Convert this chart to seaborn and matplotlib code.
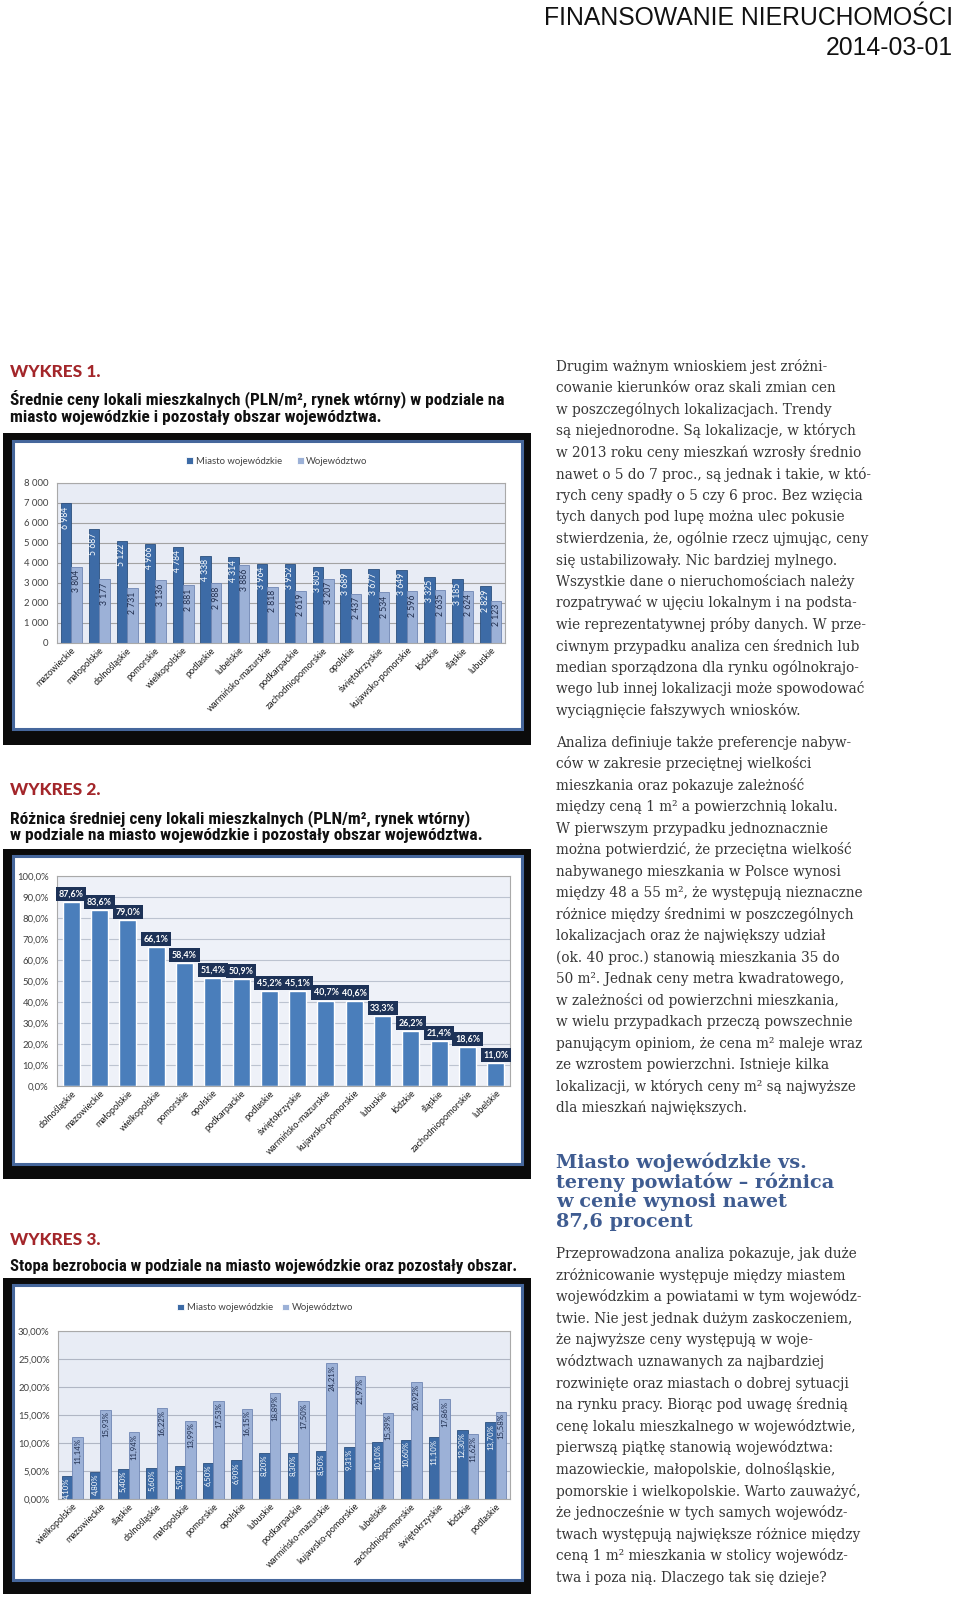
import numpy as np
import pandas as pd
import matplotlib
matplotlib.use("Agg")
import matplotlib.pyplot as plt
import seaborn as sns
from matplotlib.patches import Rectangle
from matplotlib.ticker import FuncFormatter
from matplotlib import font_manager as fm

# ---------------- data ----------------
series_names = ["Miasto wojewódzkie", "Województwo"]

c1_regions = ["mazowieckie", "małopolskie", "dolnośląskie", "pomorskie", "wielkopolskie",
              "podlaskie", "lubelskie", "warmińsko-mazurskie", "podkarpackie",
              "zachodniopomorskie", "opolskie", "świętokrzyskie", "kujawsko-pomorskie",
              "łódzkie", "śląskie", "lubuskie"]
c1_city = [6984, 5687, 5122, 4966, 4784, 4338, 4314, 3964, 3952, 3805, 3689, 3677, 3649, 3325, 3185, 2829]
c1_voiv = [3804, 3177, 2731, 3136, 2881, 2988, 3886, 2818, 2619, 3207, 2437, 2534, 2596, 2635, 2624, 2123]
c1_ticks = [0, 1000, 2000, 3000, 4000, 5000, 6000, 7000, 8000]

c2_regions = ["dolnośląskie", "mazowieckie", "małopolskie", "wielkopolskie", "pomorskie",
              "opolskie", "podkarpackie", "podlaskie", "świętokrzyskie", "warmińsko-mazurskie",
              "kujawsko-pomorskie", "lubuskie", "łódzkie", "śląskie", "zachodniopomorskie", "lubelskie"]
c2_diff = [87.6, 83.6, 79.0, 66.1, 58.4, 51.4, 50.9, 45.2, 45.1, 40.7, 40.6, 33.3, 26.2, 21.4, 18.6, 11.0]
c2_ticks = [0, 10, 20, 30, 40, 50, 60, 70, 80, 90, 100]

c3_regions = ["wielkopolskie", "mazowieckie", "śląskie", "dolnośląskie", "małopolskie",
              "pomorskie", "opolskie", "lubuskie", "podkarpackie", "warmińsko-mazurskie",
              "kujawsko-pomorskie", "lubelskie", "zachodniopomorskie", "świętokrzyskie",
              "łódzkie", "podlaskie"]
c3_city = [4.10, 4.80, 5.40, 5.60, 5.90, 6.50, 6.90, 8.20, 8.30, 8.50, 9.31, 10.10, 10.60, 11.10, 12.30, 13.70]
c3_voiv = [11.14, 15.93, 11.94, 16.22, 13.99, 17.53, 16.15, 18.89, 17.50, 24.21, 21.97, 15.39, 20.92, 17.86, 11.62, 15.58]
c3_ticks = [0, 5, 10, 15, 20, 25, 30]

header_lines = ["FINANSOWANIE NIERUCHOMOŚCI", "2014-03-01"]
chart_labels = ["WYKRES 1.", "WYKRES 2.", "WYKRES 3."]
title1 = ["Średnie ceny lokali mieszkalnych (PLN/m², rynek wtórny) w podziale na",
          "miasto wojewódzkie i pozostały obszar województwa."]
title2 = ["Różnica średniej ceny lokali mieszkalnych (PLN/m², rynek wtórny)",
          "w podziale na miasto wojewódzkie i pozostały obszar województwa."]
title3 = ["Stopa bezrobocia w podziale na miasto wojewódzkie oraz pozostały obszar."]

para1 = ["Drugim ważnym wnioskiem jest zróżni-",
         "cowanie kierunków oraz skali zmian cen",
         "w poszczególnych lokalizacjach. Trendy",
         "są niejednorodne. Są lokalizacje, w których",
         "w 2013 roku ceny mieszkań wzrosły średnio",
         "nawet o 5 do 7 proc., są jednak i takie, w któ-",
         "rych ceny spadły o 5 czy 6 proc. Bez wzięcia",
         "tych danych pod lupę można ulec pokusie",
         "stwierdzenia, że, ogólnie rzecz ujmując, ceny",
         "się ustabilizowały. Nic bardziej mylnego.",
         "Wszystkie dane o nieruchomościach należy",
         "rozpatrywać w ujęciu lokalnym i na podsta-",
         "wie reprezentatywnej próby danych. W prze-",
         "ciwnym przypadku analiza cen średnich lub",
         "median sporządzona dla rynku ogólnokrajo-",
         "wego lub innej lokalizacji może spowodować",
         "wyciągnięcie fałszywych wniosków."]
para2 = ["Analiza definiuje także preferencje nabyw-",
         "ców w zakresie przeciętnej wielkości",
         "mieszkania oraz pokazuje zależność",
         "między ceną 1 m² a powierzchnią lokalu.",
         "W pierwszym przypadku jednoznacznie",
         "można potwierdzić, że przeciętna wielkość",
         "nabywanego mieszkania w Polsce wynosi",
         "między 48 a 55 m², że występują nieznaczne",
         "różnice między średnimi w poszczególnych",
         "lokalizacjach oraz że największy udział",
         "(ok. 40 proc.) stanowią mieszkania 35 do",
         "50 m². Jednak ceny metra kwadratowego,",
         "w zależności od powierzchni mieszkania,",
         "w wielu przypadkach przeczą powszechnie",
         "panującym opiniom, że cena m² maleje wraz",
         "ze wzrostem powierzchni. Istnieje kilka",
         "lokalizacji, w których ceny m² są najwyższe",
         "dla mieszkań największych."]
heading3 = ["Miasto wojewódzkie vs.",
            "tereny powiatów – różnica",
            "w cenie wynosi nawet",
            "87,6 procent"]
para3 = ["Przeprowadzona analiza pokazuje, jak duże",
         "zróżnicowanie występuje między miastem",
         "wojewódzkim a powiatami w tym wojewódz-",
         "twie. Nie jest jednak dużym zaskoczeniem,",
         "że najwyższe ceny występują w woje-",
         "wództwach uznawanych za najbardziej",
         "rozwinięte oraz miastach o dobrej sytuacji",
         "na rynku pracy. Biorąc pod uwagę średnią",
         "cenę lokalu mieszkalnego w województwie,",
         "pierwszą piątkę stanowią województwa:",
         "mazowieckie, małopolskie, dolnośląskie,",
         "pomorskie i wielkopolskie. Warto zauważyć,",
         "że jednocześnie w tych samych wojewódz-",
         "twach występują największe różnice między",
         "ceną 1 m² mieszkania w stolicy wojewódz-",
         "twa i poza nią. Dlaczego tak się dzieje?"]

# ---------------- style ----------------
W, H = 960, 1613
DARK = "#3d6ba6"
LIGHT = "#9cb1d7"
DARK_EDGE = "#2b4f7e"
LIGHT_EDGE = "#6f86b3"
BAR2 = "#4a7ebb"
NAVY = "#1d3257"
RED = "#a3262a"
HEAD_BLUE = "#3f5c91"
TXT = "#363636"
TICK = "#404040"

sns.set_theme(style="white")
plt.rcParams["font.family"] = ["Lato", "DejaVu Sans"]
plt.rcParams["axes.unicode_minus"] = False

fig = plt.figure(figsize=(W / 100, H / 100), dpi=100)
fig.patch.set_facecolor("white")
page = fig.add_axes([0, 0, 1, 1])
page.set_xlim(0, W)
page.set_ylim(H, 0)
page.axis("off")
renderer = fig.canvas.get_renderer()


def font_available(name, stretch=None):
    for f in fm.fontManager.ttflist:
        if f.name == name and (stretch is None or f.stretch == stretch):
            return True
    return False


def px_axes(x0, y0, x1, y1):
    return fig.add_axes([x0 / W, 1 - y1 / H, (x1 - x0) / W, (y1 - y0) / H])


def fit_size(s, width, **kw):
    t = page.text(0, 0, s, fontsize=10, **kw)
    w = t.get_window_extent(renderer).width
    t.remove()
    return 10 * width / w


# pick the narrowest available bold font for the condensed chart titles
candidates = [
    ("DejaVu Serif", "condensed", dict(family=["DejaVu Serif"], fontstretch="condensed", fontweight="bold")),
    ("Noto Serif Condensed", None, dict(family=["Noto Serif Condensed", "DejaVu Sans"], fontweight="bold")),
    ("Roboto Condensed", None, dict(family=["Roboto Condensed", "DejaVu Sans"], fontweight="bold")),
    ("Noto Sans Condensed", None, dict(family=["Noto Sans Condensed", "DejaVu Sans"], fontweight="bold")),
    ("Liberation Sans Narrow", None, dict(family=["Liberation Sans Narrow", "DejaVu Sans"], fontweight="bold")),
    ("DejaVu Sans", "condensed", dict(family=["DejaVu Sans"], fontstretch="condensed", fontweight="bold")),
    ("Liberation Serif", None, dict(family=["Liberation Serif", "DejaVu Sans"], fontweight="bold")),
]
best = None
for name, stretch, props in candidates:
    if font_available(name, stretch):
        sz = fit_size(title1[0], 495, **props)
        if best is None or sz > best[0] + 0.6:
            best = (sz, props)
TITLE_FONT = best[1] if best else dict(family=["DejaVu Serif"], fontweight="bold")
MAX_TITLE = 12.8

# ---------------- header ----------------
hs = fit_size(header_lines[0], 410, family=["Liberation Sans", "DejaVu Sans"])
for s, yb in zip(header_lines, [25, 55]):
    page.text(953, yb, s, fontsize=hs, ha="right", va="baseline",
              family=["Liberation Sans", "DejaVu Sans"], color="#111111")

# ---------------- chart captions ----------------
ws = fit_size(chart_labels[0], 90, family=["Lato", "DejaVu Sans"], fontweight="black")
for lab, yb in zip(chart_labels, [377, 795, 1245]):
    page.text(10, yb, lab, fontsize=ws, fontweight="black", color=RED,
              family=["Lato", "DejaVu Sans"], va="baseline")

ts1 = min(MAX_TITLE, fit_size(title1[0], 495, **TITLE_FONT))
for s, yb in zip(title1, [405, 422]):
    page.text(10, yb, s, fontsize=ts1, color="#111111", va="baseline", **TITLE_FONT)
ts2 = min(MAX_TITLE, fit_size(title2[0], 460, **TITLE_FONT))
for s, yb in zip(title2, [823, 840]):
    page.text(10, yb, s, fontsize=ts2, color="#111111", va="baseline", **TITLE_FONT)
ts3 = min(MAX_TITLE, fit_size(title3[0], 505, **TITLE_FONT))
page.text(10, 1271, title3[0], fontsize=ts3, color="#111111", va="baseline", **TITLE_FONT)

# ---------------- frames ----------------
for (y0, y1, iy0, iy1) in [(433, 745, 441, 729), (849, 1179, 856, 1164), (1278, 1594, 1285, 1580)]:
    page.add_patch(Rectangle((3, y0), 528, y1 - y0, facecolor="#0b0b0b", edgecolor="none"))
    page.add_patch(Rectangle((13, iy0), 509, iy1 - iy0, facecolor="white",
                             edgecolor="#46679c", linewidth=2.2))

# ---------------- right column text ----------------
bs = fit_size("stwierdzenia, że, ogólnie rzecz ujmując, ceny", 312, family=["DejaVu Serif"])
for lines, y_start, step in [(para1, 371, 21.5), (para2, 746.7, 21.5), (para3, 1258, 21.6)]:
    for i, s in enumerate(lines):
        page.text(556, y_start + i * step, s, fontsize=bs, va="baseline",
                  family=["DejaVu Serif"], color=TXT)

hb = fit_size(heading3[1], 279, family=["DejaVu Serif"], fontweight="heavy")
for i, s in enumerate(heading3):
    page.text(556, 1168 + i * 19.7, s, fontsize=hb, fontweight="heavy", color=HEAD_BLUE,
              family=["DejaVu Serif"], va="baseline")


# ---------------- helpers for charts ----------------
def style_axes(ax, face, grid_color):
    ax.set_facecolor(face)
    ax.yaxis.grid(True, color=grid_color, linewidth=0.8)
    ax.xaxis.grid(False)
    ax.set_axisbelow(True)
    for sp in ax.spines.values():
        sp.set_visible(True)
        sp.set_color("#a9a9a9")
        sp.set_linewidth(0.8)
    ax.set_xlabel("")
    ax.set_ylabel("")
    ax.tick_params(axis="both", length=0, colors=TICK)
    ax.tick_params(axis="y", labelsize=6.8, pad=6)
    ax.tick_params(axis="x", labelsize=6.6, pad=2)
    for lbl in ax.get_xticklabels():
        lbl.set_rotation(45)
        lbl.set_ha("right")
        lbl.set_va("top")
        lbl.set_rotation_mode("anchor")
        lbl.set_color("#1a1a1a")


def long_df(regions, a, b):
    return pd.DataFrame({
        "region": list(regions) * 2,
        "value": list(a) + list(b),
        "series": [series_names[0]] * len(regions) + [series_names[1]] * len(regions),
    })


def vertical_labels(ax, containers, values, fmt, colors, size, off):
    for cont, vals, col in zip(containers, values, colors):
        for bar, v in zip(cont, vals):
            ax.annotate(fmt(v), (bar.get_x() + bar.get_width() / 2, bar.get_height()),
                        xytext=(0, -off), textcoords="offset points", rotation=90,
                        ha="center", va="top", fontsize=size, color=col)


thousands = lambda v: f"{int(round(v)):,}".replace(",", " ")
pct1 = lambda v: f"{v:.1f}%".replace(".", ",")
pct2 = lambda v: f"{v:.2f}%".replace(".", ",")

# ---------------- chart 1 ----------------
ax1 = px_axes(57, 483, 505, 643)
df1 = long_df(c1_regions, c1_city, c1_voiv)
sns.barplot(data=df1, x="region", y="value", hue="series", palette=[DARK, LIGHT],
            width=0.75, saturation=1, ax=ax1, linewidth=0.6, errorbar=None)
for cont, ec in zip(ax1.containers, [DARK_EDGE, LIGHT_EDGE]):
    for bar in cont:
        bar.set_edgecolor(ec)
ax1.set_ylim(0, 8000)
ax1.set_yticks(c1_ticks)
ax1.yaxis.set_major_formatter(FuncFormatter(lambda v, p: thousands(v)))
style_axes(ax1, "#e8ecf5", "#a3a3a3")
vertical_labels(ax1, ax1.containers, [c1_city, c1_voiv], thousands, ["white", "#1f2d4d"], 6.2, 2.2)
sns.move_legend(ax1, "center", bbox_to_anchor=(0.491, 1.1375), ncol=2, frameon=False,
                title=None, fontsize=6.8, handlelength=0.7, handleheight=0.7,
                handletextpad=0.3, columnspacing=1.6, labelcolor=TICK)

# ---------------- chart 2 ----------------
ax2 = px_axes(57, 876, 510, 1086)
df2 = pd.DataFrame({"region": c2_regions, "value": c2_diff})
sns.barplot(data=df2, x="region", y="value", color=BAR2, width=0.6, saturation=1,
            ax=ax2, errorbar=None)
ax2.set_ylim(0, 100)
ax2.set_yticks(c2_ticks)
ax2.yaxis.set_major_formatter(FuncFormatter(lambda v, p: pct1(v)))
style_axes(ax2, "#eef1f8", "#bcc3d0")
for bar, v in zip(ax2.containers[0], c2_diff):
    ax2.annotate(pct1(v), (bar.get_x() + bar.get_width() / 2, bar.get_height()),
                 xytext=(0, 2.6), textcoords="offset points", ha="center", va="bottom",
                 fontsize=6.4, fontweight="bold", color="white",
                 bbox=dict(boxstyle="square,pad=0.3", facecolor=NAVY, edgecolor="none"))

# ---------------- chart 3 ----------------
ax3 = px_axes(58, 1331, 510, 1499)
df3 = long_df(c3_regions, c3_city, c3_voiv)
sns.barplot(data=df3, x="region", y="value", hue="series", palette=[DARK, LIGHT],
            width=0.75, saturation=1, ax=ax3, linewidth=0.6, errorbar=None)
for cont, ec in zip(ax3.containers, [DARK_EDGE, LIGHT_EDGE]):
    for bar in cont:
        bar.set_edgecolor(ec)
ax3.set_ylim(0, 30)
ax3.set_yticks(c3_ticks)
ax3.yaxis.set_major_formatter(FuncFormatter(lambda v, p: pct2(v)))
style_axes(ax3, "#e8ecf5", "#b0b6c4")
vertical_labels(ax3, ax3.containers, [c3_city, c3_voiv], pct2, ["white", "#1f2d4d"], 5.6, 1.2)
sns.move_legend(ax3, "center", bbox_to_anchor=(0.458, 1.137), ncol=2, frameon=False,
                title=None, fontsize=6.8, handlelength=0.7, handleheight=0.7,
                handletextpad=0.3, columnspacing=1.0, labelcolor=TICK)

fig.savefig("out.png", dpi=100, facecolor="white")
